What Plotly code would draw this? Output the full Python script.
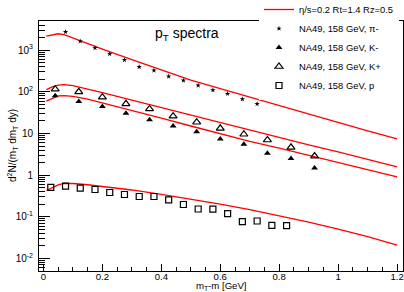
import plotly.graph_objects as go

# ---- data ----
pi_x = [0.075, 0.125, 0.175, 0.225, 0.275, 0.325, 0.375, 0.425, 0.475, 0.525,
        0.575, 0.625, 0.675, 0.725]
pi_y = [2750, 1630, 1130, 810, 580, 394, 326, 234, 187, 142, 110, 89.5, 66.7, 51.3]

km_x = [0.04, 0.12, 0.20, 0.28, 0.36, 0.44, 0.52, 0.60, 0.68, 0.76, 0.84, 0.92]
km_y = [80.2, 58.4, 44.2, 30.7, 21.2, 15.2, 11.0, 7.36, 5.49, 3.33, 2.52, 1.48]

kp_x = [0.04, 0.12, 0.20, 0.28, 0.36, 0.44, 0.52, 0.60, 0.68, 0.76, 0.84, 0.92]
kp_y = [116, 100, 74.5, 51.4, 38.9, 26.0, 18.6, 13.3, 9.57, 6.97, 4.65, 2.87]

p_x = [0.025, 0.075, 0.125, 0.175, 0.225, 0.275, 0.325, 0.375, 0.425, 0.475,
       0.525, 0.575, 0.625, 0.675, 0.725, 0.775, 0.825]
p_y = [0.506, 0.543, 0.486, 0.452, 0.383, 0.343, 0.307, 0.307, 0.254, 0.197,
       0.154, 0.152, 0.119, 0.0766, 0.0792, 0.0624, 0.0614]

curve_x = [0.01, 0.03, 0.05, 0.07, 0.10, 0.15, 0.20, 0.30, 0.40, 0.50, 0.60,
           0.70, 0.80, 0.90, 1.00, 1.10, 1.20]
curve_pi = [2160, 2330, 2470, 2360, 1950, 1443, 1062, 594, 332, 190.6, 119,
            74.3, 46.4, 29.7, 18.6, 11.6, 7.43]
curve_kp = [112.5, 130.7, 144.5, 148.5, 140.5, 118.3, 95.8, 63.2, 41.7, 27.5,
            18.2, 12.0, 7.91, 5.33, 3.62, 2.39, 1.57]
curve_km = [59.5, 70.2, 79.4, 80.7, 77.2, 66.4, 54.1, 35.3, 23.2, 15.1, 9.87,
            6.47, 4.47, 2.98, 2.02, 1.33, 0.904]
curve_p = [0.428, 0.505, 0.580, 0.631, 0.629, 0.587, 0.534, 0.440, 0.347,
           0.267, 0.202, 0.149, 0.107, 0.0746, 0.0506, 0.0334, 0.0208]

x_ticks = [0, 0.2, 0.4, 0.6, 0.8, 1, 1.2]
x_ticktext = ["0", "0.2", "0.4", "0.6", "0.8", "1", "1.2"]
y_ticks = [0.01, 0.1, 1, 10, 100, 1000]
y_ticktext = ["10<sup>-2</sup>", "10<sup>-1</sup>", "1", "10", "10<sup>2</sup>", "10<sup>3</sup>"]

FONT = "Liberation Sans, Arial, Helvetica, sans-serif"
RED = "#ff0000"

fig = go.Figure()

curves = [curve_pi, curve_kp, curve_km, curve_p]
for i, cy in enumerate(curves):
    fig.add_trace(go.Scatter(
        x=curve_x, y=cy, mode="lines",
        line=dict(color=RED, width=1.3),
        name="η/s=0.2 Rt=1.4 Rz=0.5",
        showlegend=(i == 0),
    ))

fig.add_trace(go.Scatter(x=pi_x, y=pi_y, mode="markers", name="NA49, 158 GeV, π-",
                         marker=dict(symbol="star", size=4, color="black")))
fig.add_trace(go.Scatter(x=km_x, y=km_y, mode="markers", name="NA49, 158 GeV, K-",
                         marker=dict(symbol="triangle-up", size=6, color="black")))
fig.add_trace(go.Scatter(x=kp_x, y=kp_y, mode="markers", name="NA49, 158 GeV, K+",
                         marker=dict(symbol="triangle-up-open", size=7, color="black",
                                     line=dict(width=1.2, color="black"))))
fig.add_trace(go.Scatter(x=p_x, y=p_y, mode="markers", name="NA49, 158 GeV, p",
                         marker=dict(symbol="square-open", size=6, color="black",
                                     line=dict(width=1.2, color="black"))))

fig.update_layout(
    width=404, height=292,
    margin=dict(l=39, r=1, t=21, b=21, autoexpand=False),
    paper_bgcolor="white", plot_bgcolor="white",
    font=dict(family=FONT, size=10, color="black"),
    showlegend=True,
    legend=dict(x=(259 - 39) / 364, y=(271 + 5) / 250, xanchor="left", yanchor="top",
                bgcolor="white", borderwidth=0, font=dict(size=9.4, family=FONT),
                tracegroupgap=0, itemwidth=30),
    xaxis=dict(range=[-0.015, 1.22], showline=True, mirror=True, linecolor="black",
               linewidth=1, ticks="inside", ticklen=7, tickcolor="black",
               tickvals=x_ticks, ticktext=x_ticktext, showgrid=False, zeroline=False,
               minor=dict(ticks="inside", ticklen=4, dtick=0.05, tick0=0, tickcolor="black",
                          showgrid=False),
               tickfont=dict(size=9.6), ticklabelstandoff=-4,
               ticklabeloverflow="allow"),
    yaxis=dict(type="log", range=[-2.301, 3.699], showline=True, mirror=True,
               linecolor="black", linewidth=1, ticks="inside", ticklen=11,
               tickcolor="black", tickvals=y_ticks, ticktext=y_ticktext,
               showgrid=False, zeroline=False,
               minor=dict(ticks="inside", ticklen=6, dtick="D1", tickcolor="black",
                          showgrid=False),
               tickfont=dict(size=10), ticklabelstandoff=3),
    annotations=[
        dict(text="p<sub>T</sub> spectra", xref="paper", yref="paper",
             x=(153 - 39) / 364, y=(271 - 34) / 250, xanchor="left", yanchor="middle",
             showarrow=False, font=dict(size=14, family=FONT)),
        dict(text="d<sup>2</sup>N/(m<sub>T</sub> dm<sub>T</sub> dy)", xref="paper", yref="paper",
             x=(12 - 39) / 364, y=0.5, textangle=-90, xanchor="center", yanchor="middle",
             showarrow=False, font=dict(size=10, family=FONT)),
        dict(text="m<sub>T</sub>-m [GeV]", xref="paper", yref="paper",
             x=(221.5 - 39) / 364, y=(271 - 286.3) / 250, xanchor="center", yanchor="middle",
             showarrow=False, font=dict(size=9.6, family=FONT), borderpad=0),
    ],
)

fig.write_html("out.html", config={"displayModeBar": False},
               post_script="document.body.style.margin='0';")
